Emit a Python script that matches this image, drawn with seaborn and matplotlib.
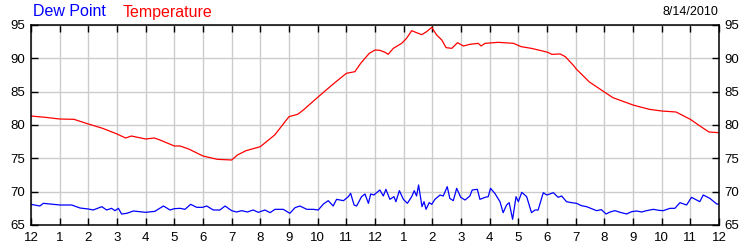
import matplotlib
matplotlib.use("Agg")
import matplotlib.pyplot as plt
import seaborn as sns
import pandas as pd

# ---- data (hours since midnight, degrees F) ----
temp_hours = [0, 0.5, 1, 1.5, 2, 2.5, 3, 3.3, 3.5, 4, 4.3, 4.5, 5, 5.2, 5.5, 6, 6.5, 7,
              7.2, 7.5, 8, 8.5, 9, 9.3, 9.5, 10, 10.5, 11, 11.3, 11.5, 11.8, 12, 12.17,
              12.35, 12.46, 12.64, 12.93, 13.1, 13.28, 13.45, 13.63, 13.8, 13.98, 14.15,
              14.33, 14.48, 14.68, 14.88, 15.08, 15.31, 15.6, 15.7, 15.84, 16.3, 16.83,
              17.1, 17.45, 17.8, 18.03, 18.17, 18.46, 18.64, 18.93, 19.02, 19.48, 20,
              20.3, 21, 21.57, 22, 22.5, 23, 23.3, 23.65, 24]
temp_vals = [81.35, 81.15, 80.9, 80.85, 80.15, 79.5, 78.65, 78.05, 78.35, 77.9, 78.05, 77.75,
             76.85, 76.85, 76.4, 75.35, 74.85, 74.75, 75.5, 76.15, 76.75, 78.5, 81.25, 81.6,
             82.25, 84.15, 86.0, 87.75, 88.0, 89.25, 90.75, 91.25, 91.2, 90.9, 90.6, 91.5,
             92.25, 93.0, 94.15, 93.85, 93.55, 94.0, 94.65, 93.5, 92.75, 91.6, 91.5, 92.35,
             91.85, 92.1, 92.25, 91.85, 92.25, 92.4, 92.25, 91.75, 91.5, 91.15, 90.9, 90.6,
             90.65, 90.25, 88.9, 88.4, 86.45, 84.95, 84.1, 83.0, 82.35, 82.1, 81.95, 80.85,
             79.95, 78.95, 78.85]

dew_hours = [0, 0.31, 0.43, 1.01, 1.42, 1.71, 2.0, 2.17, 2.47, 2.64, 2.81, 2.93, 3.05, 3.16,
             3.34, 3.57, 4.0, 4.32, 4.62, 4.85, 5.0, 5.2, 5.37, 5.57, 5.78, 5.99, 6.13, 6.36,
             6.59, 6.77, 7.0, 7.17, 7.35, 7.55, 7.75, 7.93, 8.16, 8.34, 8.51, 8.8, 9.03, 9.21,
             9.38, 9.62, 9.85, 10.02, 10.2, 10.37, 10.54, 10.66, 10.9, 11.07, 11.15, 11.27,
             11.36, 11.53, 11.65, 11.77, 11.85, 11.96, 12.17, 12.29, 12.38, 12.52, 12.66,
             12.73, 12.85, 12.99, 13.13, 13.28, 13.37, 13.45, 13.52, 13.64, 13.71, 13.78,
             13.89, 13.98, 14.09, 14.27, 14.38, 14.52, 14.61, 14.73, 14.85, 14.99, 15.14,
             15.31, 15.39, 15.57, 15.66, 15.84, 15.95, 16.03, 16.18, 16.36, 16.47, 16.59,
             16.68, 16.8, 16.92, 17.0, 17.12, 17.29, 17.46, 17.58, 17.69, 17.87, 17.99,
             18.1, 18.22, 18.39, 18.51, 18.68, 18.86, 19.03, 19.2, 19.38, 19.55, 19.73,
             19.9, 20.06, 20.2, 20.37, 20.55, 20.78, 20.95, 21.13, 21.3, 21.47, 21.71,
             21.9, 22.05, 22.29, 22.46, 22.64, 22.87, 23.04, 23.33, 23.45, 23.68, 23.92, 24]
dew_vals = [68.1, 67.85, 68.25, 68.0, 68.0, 67.55, 67.4, 67.25, 67.75, 67.25, 67.5, 67.15,
            67.5, 66.65, 66.75, 67.1, 66.9, 67.05, 67.85, 67.25, 67.45, 67.5, 67.35, 68.1,
            67.65, 67.65, 67.85, 67.25, 67.25, 67.85, 67.15, 66.95, 67.15, 66.95, 67.25,
            66.9, 67.25, 66.85, 67.35, 67.35, 66.75, 67.6, 67.85, 67.35, 67.35, 67.25, 68.15,
            68.65, 67.85, 68.85, 68.65, 69.25, 69.75, 68.0, 67.85, 69.25, 69.65, 68.25, 69.65,
            69.5, 70.25, 69.35, 70.35, 68.85, 69.25, 68.5, 70.15, 68.85, 68.25, 69.25, 70.15,
            69.35, 71.0, 67.75, 68.5, 67.35, 68.35, 68.1, 68.85, 69.5, 69.35, 70.75, 69.0,
            68.65, 70.5, 69.15, 68.75, 69.35, 70.25, 70.35, 68.85, 69.15, 69.25, 70.5, 69.75,
            68.5, 66.85, 68.0, 68.35, 65.85, 69.25, 68.5, 69.9, 69.25, 66.85, 67.25, 67.25,
            69.85, 69.5, 69.65, 69.85, 69.15, 69.35, 68.5, 68.35, 68.25, 67.9, 67.75, 67.45,
            67.15, 67.3, 66.65, 66.95, 67.15, 66.9, 66.65, 67.0, 67.1, 66.95, 67.15, 67.35,
            67.2, 67.15, 67.5, 67.5, 68.35, 68.0, 69.15, 68.5, 69.5, 69.0, 68.15, 68.15]

x_ticks = list(range(0, 25))
x_tick_labels = ["12", "1", "2", "3", "4", "5", "6", "7", "8", "9", "10", "11",
                 "12", "1", "2", "3", "4", "5", "6", "7", "8", "9", "10", "11", "12"]
y_ticks = [65, 70, 75, 80, 85, 90, 95]
date_label = "8/14/2010"

# ---- styling ----
sns.set_style("white")
plt.rcParams["font.family"] = ["Liberation Sans", "DejaVu Sans"]

fig = plt.figure(figsize=(7.5, 2.5), dpi=100)
ax = fig.add_axes([31 / 750, 1 - 225 / 250, 688 / 750, 200 / 250])

temp_df = pd.DataFrame({"hour": temp_hours, "value": temp_vals})
dew_df = pd.DataFrame({"hour": dew_hours, "value": dew_vals})

sns.lineplot(data=temp_df, x="hour", y="value", color="#ff0000", linewidth=0.9, ax=ax)
sns.lineplot(data=dew_df, x="hour", y="value", color="#0000ff", linewidth=0.9, ax=ax)

ax.set_xlim(0, 24)
ax.set_ylim(65, 95)
ax.set_xticks(x_ticks)
ax.set_xticklabels(x_tick_labels)
ax.set_yticks(y_ticks)
ax.set_xlabel("")
ax.set_ylabel("")

ax.grid(True, color="#cccccc", linewidth=1.0)
ax.set_axisbelow(True)
for s in ax.spines.values():
    s.set_color("black")
    s.set_linewidth(1.1)
    s.set_visible(True)

ax.tick_params(axis="x", direction="in", length=5, width=1, colors="black",
               top=True, bottom=True, labelsize=9.5, pad=5)
ax.tick_params(axis="y", direction="in", length=5, width=1, colors="black",
               left=True, right=True, labelleft=True, labelright=True, labelsize=9.5, pad=4)

fig.text(33 / 750, 1 - 12 / 250, "Dew Point", color="#0000ff", fontsize=11.5, va="center", ha="left")
fig.text(123 / 750, 1 - 12 / 250, "Temperature", color="#ff0000", fontsize=11.5, va="center", ha="left")
fig.text(718 / 750, 1 - 12 / 250, date_label, color="black", fontsize=9, va="center", ha="right")

fig.savefig("out.png", dpi=100)
